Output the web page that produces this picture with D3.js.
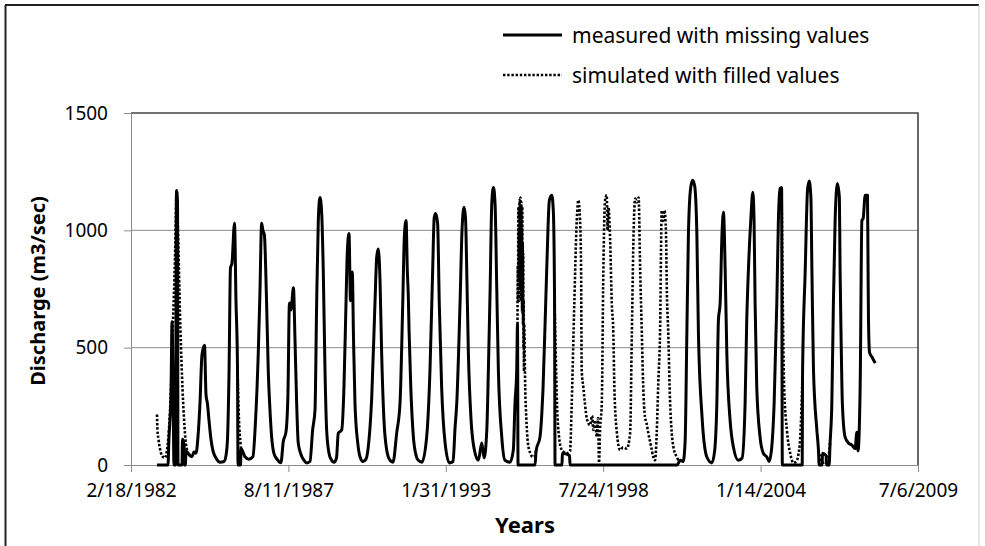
<!DOCTYPE html>
<html>
<head>
<meta charset="utf-8">
<script src="https://cdn.jsdelivr.net/npm/d3@7"></script>
<style>
  body { margin: 0; background: #fff; }
  text { font-family: "Noto Sans", sans-serif; fill: #000; }
</style>
</head>
<body>
<svg id="chart" width="985" height="546"></svg>
<script>
// Tick labels and series names
const xTickLabels = ["2/18/1982", "8/11/1987", "1/31/1993", "7/24/1998", "1/14/2004", "7/6/2009"];
const yTicks = [0, 500, 1000, 1500];
const seriesNames = ["measured with missing values", "simulated with filled values"];

// Measured discharge, missing values plotted as 0
const measured = [
  ["1983-01-14",0],["1983-06-03",0],["1983-06-15",110],["1983-07-11",300],["1983-07-24",610],["1983-08-05",380],["1983-08-18",0],["1983-09-06",0],["1983-09-19",1170],["1983-10-02",1120],["1983-10-08",0],["1983-11-28",0],["1983-12-04",110],["1983-12-23",90],["1983-12-29",0],["1984-01-10",0],["1984-01-17",60],
  ["1984-02-24",45],["1984-04-03",35],["1984-04-28",55],["1984-05-24",50],["1984-06-18",120],["1984-07-13",260],["1984-08-08",470],["1984-09-09",510],["1984-09-28",300],["1984-10-17",260],["1984-11-05",190],["1984-11-30",110],["1984-12-26",60],
  ["1985-02-02",30],["1985-03-25",12],["1985-05-15",15],["1985-06-09",40],["1985-06-28",110],["1985-07-17",380],["1985-08-05",840],["1985-08-24",860],["1985-09-25",1030],["1985-10-14",700],["1985-11-02",420],["1985-11-09",0],["1985-12-11",0],["1985-12-17",70],
  ["1986-01-11",55],["1986-02-05",35],["1986-03-27",25],["1986-05-17",35],["1986-06-18",180],["1986-07-24",476],["1986-08-14",730],["1986-09-05",1030],["1986-09-21",1000],["1986-10-10",980],["1986-11-07",690],["1986-11-28",404],["1986-12-19",240],
  ["1987-01-10",120],["1987-02-08",50],["1987-03-19",25],["1987-05-08",10],["1987-06-07",100],["1987-07-11",140],["1987-08-05",300],["1987-08-24",690],["1987-09-12",660],["1987-10-14",755],["1987-11-02",545],["1987-11-24",262],["1987-12-14",94],
  ["1988-01-18",45],["1988-02-25",20],["1988-04-03",9],["1988-05-11",15],["1988-06-14",150],["1988-07-14",234],["1988-08-04",690],["1988-08-25",1042],["1988-09-15",1140],["1988-10-07",1072],["1988-10-27",830],["1988-11-18",404],["1988-12-09",149],
  ["1989-01-08",50],["1989-02-02",25],["1989-03-12",12],["1989-04-13",30],["1989-05-06",136],["1989-06-18",149],["1989-07-17",332],["1989-08-12",690],["1989-08-28",902],["1989-09-19",987],["1989-10-08",700],["1989-10-31",822],["1989-11-15",545],["1989-12-04",262],
  ["1990-01-08",94],["1990-02-06",35],["1990-03-16",15],["1990-04-23",25],["1990-05-22",77],["1990-07-05",290],["1990-08-15",690],["1990-09-06",886],["1990-09-26",920],["1990-10-18",788],["1990-11-08",476],["1990-12-07",192],
  ["1991-01-11",64],["1991-02-22",20],["1991-04-01",12],["1991-05-18",136],["1991-06-29",262],["1991-08-03",690],["1991-08-23",970],["1991-09-14",1042],["1991-09-30",830],["1991-10-13",715],["1991-10-22",575],["1991-11-13",332],["1991-12-16",120],
  ["1992-01-20",40],["1992-02-16",20],["1992-04-03",12],["1992-06-02",120],["1992-07-14",404],["1992-08-17",830],["1992-09-06",1055],["1992-09-24",1072],["1992-10-19",1030],["1992-11-09",690],["1992-12-09",332],
  ["1993-01-22",94],["1993-03-17",9],["1993-05-03",15],["1993-05-29",160],["1993-06-19",262],["1993-07-31",690],["1993-08-25",1000],["1993-09-20",1098],["1993-10-09",1050],["1993-10-24",830],["1993-11-14",476],["1993-12-18",192],
  ["1994-01-29",64],["1994-03-21",20],["1994-05-03",94],["1994-06-01",30],["1994-07-06",149],["1994-07-26",404],["1994-08-17",745],["1994-09-07",1113],["1994-09-28",1183],["1994-10-19",1113],["1994-11-10",745],["1994-11-30",404],
  ["1995-01-12",120],["1995-02-22",20],["1995-04-27",12],["1995-06-08",64],["1995-06-29",262],["1995-07-21",404],["1995-07-31",600],["1995-08-07",0],
  ["1996-03-10",0],["1996-03-23",60],["1996-05-12",120],["1996-06-20",332],["1996-08-05",830],["1996-09-08",1128],["1996-10-08",1150],["1996-10-28",1085],["1996-11-13",700],["1996-11-19",0],
  ["1997-02-16",0],["1997-02-20",50],["1997-05-22",40],["1997-05-29",0],
  ["2001-02-17",0],["2001-03-28",20],["2001-05-05",15],["2001-05-30",100],["2001-06-21",560],["2001-07-11",987],["2001-08-08",1180],["2001-09-03",1213],["2001-09-28",1190],["2001-10-26",987],["2001-11-15",560],["2001-12-31",205],
  ["2002-03-02",34],["2002-05-05",9],["2002-06-09",60],["2002-07-07",262],["2002-07-27",617],["2002-08-18",690],["2002-09-09",970],["2002-09-29",1077],["2002-10-21",830],["2002-11-11",476],["2002-12-22",192],
  ["2003-02-02",77],["2003-04-07",20],["2003-05-24",30],["2003-07-01",262],["2003-07-22",617],["2003-08-12",830],["2003-09-11",1042],["2003-10-07",1162],["2003-10-23",1042],["2003-11-05",690],["2003-11-26",332],
  ["2004-01-07",120],["2004-02-18",50],["2004-04-02",34],["2004-05-01",15],["2004-06-04",77],["2004-07-04",262],["2004-08-07",690],["2004-08-27",1042],["2004-09-18",1178],["2004-10-07",1183],["2004-10-16",0],
  ["2005-06-26",0],["2005-06-30",390],["2005-08-03",830],["2005-09-01",1170],["2005-09-22",1210],["2005-10-14",1140],["2005-10-27",830],["2005-11-16",404],["2005-12-29",149],
  ["2006-01-18",64],["2006-01-27",0],["2006-03-06",0],["2006-03-10",50],["2006-04-26",40],["2006-04-30",0],["2006-06-03",0],["2006-06-15",94],["2006-07-07",262],["2006-07-27",690],["2006-08-18",1042],["2006-09-16",1200],["2006-10-11",1140],["2006-10-20",830],["2006-11-02",540],["2006-11-18",262],["2006-12-22",120],
  ["2007-02-03",94],["2007-03-19",85],["2007-04-29",70],["2007-05-21",140],["2007-06-05",60],["2007-07-02",332],["2007-07-24",1042],["2007-08-09",1050],["2007-09-04",1150],["2007-10-03",1150],["2007-10-10",860],["2007-10-16",617],["2007-10-29",480],["2007-11-29",460],["2008-01-09",434]
];

// Simulated values where they fill the gaps (null = hidden under measured)
const simulated = [
  ["1983-01-14",215],["1983-01-20",150],["1983-02-02",110],["1983-02-21",70],["1983-03-18",40],["1983-04-25",30],["1983-05-20",60],["1983-06-15",150],["1983-07-11",330],["1983-08-05",600],["1983-08-31",880],["1983-09-21",1170],["1983-10-08",1000],["1983-11-02",650],["1983-11-28",380],["1983-12-23",200],["1984-01-17",90],["1984-02-11",55],["1984-02-12",null],
  ["1985-11-02",420],["1985-11-20",200],["1985-12-11",90],["1985-12-17",70],["1985-12-18",null],
  ["1995-07-31",600],["1995-08-04",850],["1995-08-07",700],["1995-08-10",1050],["1995-08-13",1100],["1995-08-16",800],["1995-08-19",1000],["1995-08-22",700],["1995-08-25",1130],["1995-08-28",850],["1995-08-31",1100],["1995-09-03",750],["1995-09-06",1140],["1995-09-09",800],["1995-09-12",1050],["1995-09-15",700],["1995-09-18",1120],["1995-09-21",750],["1995-09-24",1000],["1995-09-27",650],["1995-09-30",1100],["1995-10-03",700],["1995-10-06",950],["1995-10-09",600],["1995-10-12",900],["1995-10-15",500],["1995-10-18",700],["1995-10-21",400],["1995-10-24",600],["1995-11-06",330],["1995-11-20",200],["1995-12-10",94],["1996-01-10",50],["1996-02-10",34],["1996-03-10",40],["1996-03-23",60],["1996-03-24",null],
  ["1996-11-13",700],["1996-11-26",500],["1996-12-15",250],["1997-01-09",120],["1997-02-12",64],["1997-03-13",55],["1997-04-20",50],["1997-05-29",60],["1997-06-19",262],["1997-07-22",690],["1997-08-22",1042],["1997-09-11",1128],["1997-10-03",1042],["1997-10-16",830],["1997-10-24",404],["1997-11-14",330],["1997-12-27",200],
  ["1998-01-13",180],["1998-02-07",170],["1998-03-05",210],["1998-03-21",149],["1998-04-12",190],["1998-05-03",120],["1998-05-20",200],["1998-06-01",10],["1998-06-14",150],["1998-07-06",262],["1998-07-26",830],["1998-08-17",1128],["1998-09-07",1150],["1998-09-17",1000],["1998-09-28",1100],["1998-10-19",970],["1998-11-10",690],["1998-11-30",560],["1998-12-13",332],
  ["1999-01-13",140],["1999-02-24",64],["1999-04-03",75],["1999-05-20",70],["1999-07-01",136],["1999-07-23",560],["1999-08-15",1000],["1999-09-03",1135],["1999-09-28",1120],["1999-10-17",1140],["1999-11-05",843],["1999-11-27",560],["1999-12-13",350],
  ["2000-01-06",205],["2000-01-25",180],["2000-02-17",136],["2000-03-23",80],["2000-04-21",34],["2000-05-13",20],["2000-06-03",136],["2000-06-23",350],["2000-07-15",560],["2000-08-06",1085],["2000-08-22",1040],["2000-09-10",1085],["2000-09-29",987],["2000-10-08",774],["2000-10-28",560],["2000-11-19",277],
  ["2001-01-01",77],["2001-02-13",34],["2001-03-15",20],["2001-03-28",20],["2001-03-29",null],
  ["2004-10-07",1183],["2004-10-22",690],["2004-11-08",332],["2004-12-13",149],["2005-01-24",50],["2005-03-07",9],["2005-04-11",15],["2005-05-06",40],["2005-06-01",120],["2005-06-30",390],["2005-07-01",null],
  ["2006-01-18",64],["2006-02-15",25],["2006-03-20",10],["2006-04-26",20],["2006-05-20",30],["2006-06-15",94]
];

// Dimensions
const margin = {top: 113, right: 67, bottom: 81, left: 131},
      width = 985 - margin.left - margin.right,
      height = 546 - margin.top - margin.bottom;

const parseTick = d3.timeParse("%m/%d/%Y");
const parseDay = d3.timeParse("%Y-%m-%d");
const fmtTick = d3.timeFormat("%-m/%-d/%Y");
const tickDates = xTickLabels.map(parseTick);

const x = d3.scaleTime()
    .domain([tickDates[0], tickDates[tickDates.length - 1]])
    .range([0, width]);
const y = d3.scaleLinear()
    .domain([0, 1500])
    .range([height, 0]);

const svg = d3.select("#chart");

// Outer chart frame
svg.append("line").attr("x1", 5.5).attr("x2", 5.5).attr("y1", 5).attr("y2", 546)
    .attr("stroke", "#222").attr("stroke-width", 2);
svg.append("line").attr("x1", 5).attr("x2", 979).attr("y1", 5).attr("y2", 5)
    .attr("stroke", "#222").attr("stroke-width", 2);
svg.append("line").attr("x1", 979).attr("x2", 979).attr("y1", 5).attr("y2", 546)
    .attr("stroke", "#ccc").attr("stroke-width", 1);

const g = svg.append("g")
    .attr("transform", "translate(" + margin.left + "," + margin.top + ")");

// Gridlines
g.selectAll(".grid")
    .data(yTicks.filter(d => d > 0 && d < 1500))
  .enter().append("line")
    .attr("x1", 0).attr("x2", width)
    .attr("y1", d => y(d)).attr("y2", d => y(d))
    .attr("stroke", "#8c8c8c").attr("stroke-width", 1);

// Plot area border (top and right)
g.append("path")
    .attr("d", "M0," + y(1500) + "H" + width + "V" + height)
    .attr("fill", "none").attr("stroke", "#444").attr("stroke-width", 1.6);

// Y axis
const yAxis = g.append("g")
    .call(d3.axisLeft(y).tickValues(yTicks).tickSize(7).tickPadding(16).tickFormat(d3.format("d")));
yAxis.select(".domain").attr("stroke", "#8c8c8c");
yAxis.selectAll(".tick line").attr("stroke", "#8c8c8c");
yAxis.selectAll("text").attr("font-size", 19).attr("font-family", "Noto Sans").attr("fill", "#222");

// X axis
const xAxis = g.append("g")
    .attr("transform", "translate(0," + height + ")")
    .call(d3.axisBottom(x).tickValues(tickDates).tickSize(7).tickPadding(12).tickFormat(fmtTick));
xAxis.select(".domain").attr("stroke", "#8c8c8c");
xAxis.selectAll(".tick line").attr("stroke", "#8c8c8c");
xAxis.selectAll("text").attr("font-size", 19).attr("font-family", "Noto Sans").attr("fill", "#222");

// Lines
const line = d3.line()
    .defined(d => d[1] !== null)
    .x(d => x(parseDay(d[0])))
    .y(d => y(d[1]))
    .curve(d3.curveMonotoneX);

g.append("path")
    .datum(simulated)
    .attr("fill", "none")
    .attr("stroke", "#000")
    .attr("stroke-width", 2.6)
    .attr("stroke-dasharray", "2.4,1.8")
    .attr("d", line);

g.append("path")
    .datum(measured)
    .attr("fill", "none")
    .attr("stroke", "#000")
    .attr("stroke-width", 3)
    .attr("stroke-linejoin", "round")
    .attr("d", line);

// Axis titles
svg.append("text")
    .attr("transform", "translate(45,291) rotate(-90)")
    .attr("text-anchor", "middle")
    .attr("font-size", 20).attr("font-weight", "bold")
    .text("Discharge (m3/sec)");
svg.append("text")
    .attr("x", 525).attr("y", 533)
    .attr("text-anchor", "middle")
    .attr("font-size", 22).attr("font-weight", "bold")
    .text("Years");

// Legend
const legend = svg.append("g");
const legendY = [35, 75];
legend.selectAll("line")
    .data(seriesNames)
  .enter().append("line")
    .attr("x1", 503).attr("x2", 562)
    .attr("y1", (d, i) => legendY[i]).attr("y2", (d, i) => legendY[i])
    .attr("stroke", "#000")
    .attr("stroke-width", (d, i) => i === 0 ? 3 : 2.4)
    .attr("stroke-dasharray", (d, i) => i === 0 ? null : "2.4,1.8");
legend.selectAll("text")
    .data(seriesNames)
  .enter().append("text")
    .attr("x", 572)
    .attr("y", (d, i) => legendY[i] + 8)
    .attr("font-size", 21)
    .text(d => d);
</script>
</body>
</html>
